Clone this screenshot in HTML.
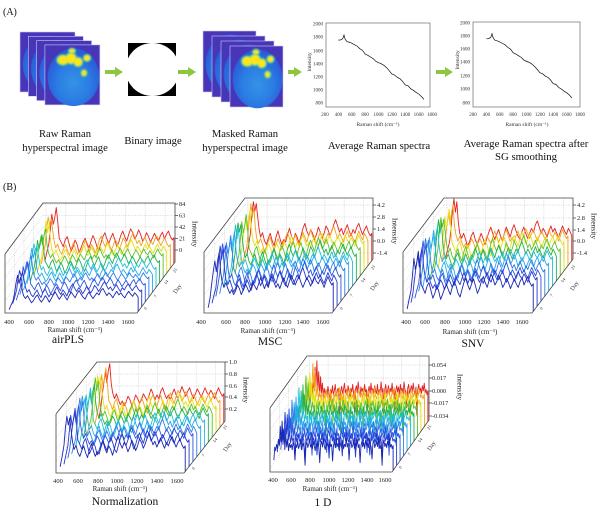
<!DOCTYPE html>
<html><head><meta charset="utf-8">
<style>
html,body{margin:0;padding:0;background:#fff;}
svg{display:block;font-family:"Liberation Serif","DejaVu Serif",serif;}
</style></head><body>
<svg width="600" height="507" viewBox="0 0 600 507" xmlns="http://www.w3.org/2000/svg" xmlns:xlink="http://www.w3.org/1999/xlink">
<defs>
 <radialGradient id="bg1" cx="0.5" cy="0.6" r="0.55">
   <stop offset="0" stop-color="#3592e6"/>
   <stop offset="0.55" stop-color="#2b7ee4"/>
   <stop offset="1" stop-color="#2a5cd8"/>
 </radialGradient>
 <filter id="bl" x="-50%" y="-50%" width="200%" height="200%"><feGaussianBlur stdDeviation="0.8"/></filter>
 <clipPath id="cb"><rect x="128" y="43" width="48" height="53"/></clipPath>
 <path id="A" fill="none" stroke-width="0.9" stroke-linejoin="round" vector-effect="non-scaling-stroke" d="M30 -4 L50 -20 L70 -35 L85 -60 L100 -88 L115 -70 L130 -82 L145 -100 L160 -75 L175 -45 L195 -38 L215 -30 L235 -42 L255 -48 L275 -35 L295 -22 L315 -30 L335 -42 L355 -34 L375 -20 L395 -28 L415 -38 L435 -45 L455 -36 L475 -28 L495 -40 L515 -50 L535 -42 L555 -30 L575 -24 L595 -36 L615 -48 L635 -55 L655 -44 L675 -36 L695 -46 L715 -54 L735 -42 L755 -30 L775 -38 L795 -50 L815 -58 L835 -48 L855 -40 L875 -52 L895 -62 L915 -55 L935 -44 L955 -50 L975 -60 L995 -52 L1015 -40 L1035 -46 L1055 -55 L1075 -48 L1095 -38 L1115 -46 L1135 -54 L1155 -46 L1175 -40 L1195 -50 L1215 -56 L1235 -44 L1255 -52 L1275 -58 L1295 -48 L1315 -42 L1330 -46 L1330 0"/>
 <path id="B" fill="none" stroke-width="0.9" stroke-linejoin="round" vector-effect="non-scaling-stroke" d="M30 -8 L50 -25 L70 -45 L85 -75 L100 -95 L115 -80 L130 -92 L145 -70 L160 -50 L175 -38 L195 -45 L215 -32 L235 -26 L255 -36 L275 -44 L295 -32 L315 -24 L335 -38 L355 -48 L375 -36 L395 -26 L415 -34 L435 -30 L455 -42 L475 -52 L495 -40 L515 -32 L535 -44 L555 -38 L575 -28 L595 -40 L615 -52 L635 -60 L655 -48 L675 -40 L695 -50 L715 -44 L735 -34 L755 -42 L775 -54 L795 -46 L815 -36 L835 -44 L855 -56 L875 -50 L895 -40 L915 -48 L935 -58 L955 -66 L975 -56 L995 -46 L1015 -52 L1035 -42 L1055 -50 L1075 -58 L1095 -48 L1115 -40 L1135 -50 L1155 -44 L1175 -54 L1195 -60 L1215 -50 L1235 -42 L1255 -50 L1275 -56 L1295 -46 L1315 -40 L1330 -44 L1330 0"/>
 <path id="C" fill="none" stroke-width="0.9" stroke-linejoin="round" vector-effect="non-scaling-stroke" d="M30 -5 L50 -18 L70 -30 L85 -52 L100 -80 L115 -100 L130 -78 L145 -95 L160 -62 L175 -44 L195 -36 L215 -44 L235 -34 L255 -24 L275 -30 L295 -40 L315 -46 L335 -34 L355 -26 L375 -34 L395 -44 L415 -36 L435 -26 L455 -36 L475 -46 L495 -54 L515 -44 L535 -34 L555 -42 L575 -50 L595 -40 L615 -32 L635 -44 L655 -54 L675 -46 L695 -38 L715 -50 L735 -58 L755 -48 L775 -40 L795 -34 L815 -46 L835 -54 L855 -44 L875 -36 L895 -44 L915 -52 L935 -46 L955 -58 L975 -64 L995 -54 L1015 -44 L1035 -52 L1055 -46 L1075 -38 L1095 -48 L1115 -56 L1135 -46 L1155 -52 L1175 -44 L1195 -38 L1215 -48 L1235 -56 L1255 -48 L1275 -42 L1295 -52 L1315 -46 L1330 -40 L1330 0"/>
 <path id="E" fill="none" stroke-width="0.9" stroke-linejoin="round" vector-effect="non-scaling-stroke" d="M30 -6 L50 -22 L70 -50 L85 -68 L100 -84 L115 -66 L130 -86 L145 -98 L160 -66 L175 -50 L195 -40 L215 -48 L235 -38 L255 -30 L275 -36 L295 -28 L315 -34 L335 -44 L355 -38 L375 -28 L395 -36 L415 -46 L435 -40 L455 -32 L475 -38 L495 -48 L515 -42 L535 -36 L555 -46 L575 -56 L595 -48 L615 -38 L635 -46 L655 -40 L675 -52 L695 -58 L715 -48 L735 -40 L755 -46 L775 -38 L795 -48 L815 -56 L835 -46 L855 -40 L875 -50 L895 -60 L915 -52 L935 -44 L955 -52 L975 -58 L995 -48 L1015 -40 L1035 -48 L1055 -56 L1075 -50 L1095 -42 L1115 -50 L1135 -58 L1155 -50 L1175 -46 L1195 -54 L1215 -48 L1235 -40 L1255 -50 L1275 -58 L1295 -50 L1315 -44 L1330 -48 L1330 0"/>
 <path id="D" fill="none" stroke-width="0.9" stroke-linejoin="round" vector-effect="non-scaling-stroke" d="M30 -20 L40 -45 L50 -38 L60 -50 L70 -42 L80 -60 L90 -48 L100 -85 L110 -55 L120 -95 L130 -50 L140 -78 L150 -40 L160 -70 L170 -45 L180 -60 L190 -38 L200 -52 L210 -44 L220 -50 L230 -40 L240 -55 L250 -47 L260 -20 L270 -50 L280 -44 L290 -56 L300 -42 L310 -48 L320 -58 L330 -40 L340 -46 L350 -52 L360 -43 L370 -10 L380 -48 L390 -55 L400 -44 L410 -50 L420 -60 L430 -45 L440 -50 L450 -42 L460 -56 L470 -48 L480 -38 L490 -52 L500 -46 L510 -58 L520 -44 L530 -15 L540 -50 L550 -56 L560 -45 L570 -62 L580 -48 L590 -40 L600 -54 L610 -47 L620 -52 L630 -42 L640 -58 L650 -46 L660 -50 L670 -18 L680 -48 L690 -55 L700 -44 L710 -60 L720 -46 L730 -52 L740 -40 L750 -56 L760 -48 L770 -44 L780 -58 L790 -42 L800 -50 L810 -46 L820 -62 L830 -45 L840 -52 L850 -20 L860 -50 L870 -58 L880 -44 L890 -48 L900 -56 L910 -42 L920 -52 L930 -47 L940 -60 L950 -44 L960 -50 L970 -15 L980 -48 L990 -56 L1000 -46 L1010 -54 L1020 -42 L1030 -58 L1040 -48 L1050 -52 L1060 -44 L1070 -62 L1080 -50 L1090 -46 L1100 -22 L1110 -52 L1120 -58 L1130 -44 L1140 -50 L1150 -56 L1160 -46 L1170 -60 L1180 -48 L1190 -42 L1200 -54 L1210 -10 L1220 -50 L1230 -58 L1240 -46 L1250 -52 L1260 -44 L1270 -56 L1280 -48 L1290 -60 L1300 -45 L1310 -50 L1320 -42 L1330 -48 L1330 0"/>
 <path id="D2" fill="none" stroke-width="0.9" stroke-linejoin="round" vector-effect="non-scaling-stroke" d="M30 -25 L42 -48 L54 -40 L66 -55 L78 -45 L90 -70 L102 -50 L114 -100 L126 -60 L138 -88 L150 -48 L162 -65 L174 -42 L186 -56 L198 -46 L210 -52 L222 -18 L234 -54 L246 -44 L258 -58 L270 -46 L282 -50 L294 -40 L306 -56 L318 -48 L330 -12 L342 -52 L354 -46 L366 -58 L378 -44 L390 -50 L402 -62 L414 -46 L426 -52 L438 -40 L450 -56 L462 -20 L474 -50 L486 -58 L498 -44 L510 -52 L522 -60 L534 -46 L546 -50 L558 -42 L570 -58 L582 -48 L594 -14 L606 -52 L618 -58 L630 -46 L642 -54 L654 -44 L666 -60 L678 -48 L690 -52 L702 -40 L714 -56 L726 -50 L738 -18 L750 -52 L762 -58 L774 -46 L786 -62 L798 -48 L810 -44 L822 -56 L834 -50 L846 -58 L858 -42 L870 -54 L882 -16 L894 -50 L906 -58 L918 -46 L930 -52 L942 -60 L954 -48 L966 -44 L978 -56 L990 -50 L1002 -62 L1014 -46 L1026 -52 L1038 -20 L1050 -54 L1062 -46 L1074 -58 L1086 -50 L1098 -44 L1110 -60 L1122 -48 L1134 -54 L1146 -42 L1158 -56 L1170 -12 L1182 -52 L1194 -58 L1206 -46 L1218 -54 L1230 -48 L1242 -60 L1254 -44 L1266 -52 L1278 -58 L1290 -46 L1302 -50 L1314 -44 L1330 -52 L1330 0"/>
 <polyline id="avg" fill="none" stroke="#111" stroke-width="0.7" points="338.38,40 339.71,40.13 341.05,39.67 342.39,39 343.06,38 344,35 344.73,38 345.73,40 347.07,41.67 349.08,42.13 351.75,43.2 354.43,44.67 357.1,46.13 359.78,48.67 362.45,50.33 365.13,54 367.8,55.33 370.48,57 373.15,58.67 375.83,61.33 378.5,62.67 381.18,63.67 383.85,65.33 386.53,67.67 389.2,70.67 391.88,74 394.55,75 397.23,77.33 399.9,78.67 402.58,81.33 405.25,85 407.93,85.67 410.6,88.67 413.28,90.33 415.95,92.33 418.63,94 421.3,96.33 423.98,99.33"/>
</defs>
<rect width="600" height="507" fill="#fff"/>

<!-- image stack 1 -->
<g stroke="#cfc8f2" stroke-width="0.6">
 <rect x="20" y="32" width="55" height="60" fill="#4737b8"/>
 <ellipse cx="48.6" cy="64.4" rx="25.85" ry="28.8" fill="url(#bg1)" stroke="none"/>
 <rect x="28.3" y="36.3" width="55" height="60" fill="#4737b8"/>
 <ellipse cx="56.9" cy="68.7" rx="25.85" ry="28.8" fill="url(#bg1)" stroke="none"/>
 <rect x="36.6" y="40.6" width="55" height="60" fill="#4737b8"/>
 <ellipse cx="65.2" cy="73" rx="25.85" ry="28.8" fill="url(#bg1)" stroke="none"/>
 <rect x="44.9" y="44.9" width="55" height="60" fill="#4737b8"/>
 <ellipse cx="73.5" cy="77.3" rx="25.85" ry="28.8" fill="url(#bg1)" stroke="none"/>
</g>
<g filter="url(#bl)">
 <g fill="#3fbf9c"><ellipse cx="63" cy="60" rx="7" ry="6"/><ellipse cx="71" cy="58.5" rx="6.5" ry="6.5"/><ellipse cx="78" cy="62" rx="5.5" ry="5.5"/><ellipse cx="87" cy="58" rx="4.5" ry="4.3"/><ellipse cx="84" cy="73" rx="3.9" ry="4.3"/><ellipse cx="72" cy="51" rx="4.3" ry="3.5"/></g>
 <g fill="#f5e21a"><ellipse cx="63" cy="60" rx="5.5" ry="4.5"/><ellipse cx="71" cy="58.5" rx="5" ry="5"/><ellipse cx="78" cy="62" rx="4" ry="4"/><ellipse cx="87" cy="58" rx="3" ry="2.8"/><ellipse cx="84" cy="73" rx="2.4" ry="2.8"/><ellipse cx="72" cy="51" rx="2.8" ry="2"/></g>
</g>
<g fill="#f8e818"><ellipse cx="63" cy="60" rx="3.8" ry="3"/><ellipse cx="71" cy="58.5" rx="3.4" ry="3.4"/><ellipse cx="78" cy="62" rx="2.6" ry="2.6"/><ellipse cx="87" cy="58" rx="1.8" ry="1.7"/></g>

<!-- image stack 2 -->
<g stroke="#cfc8f2" stroke-width="0.6">
 <rect x="203" y="31" width="53" height="61" fill="#4737b8"/>
 <ellipse cx="230.56" cy="63.94" rx="24.9" ry="29.3" fill="url(#bg1)" stroke="none"/>
 <rect x="212" y="36" width="53" height="61" fill="#4737b8"/>
 <ellipse cx="239.56" cy="68.94" rx="24.9" ry="29.3" fill="url(#bg1)" stroke="none"/>
 <rect x="221" y="41" width="53" height="61" fill="#4737b8"/>
 <ellipse cx="248.56" cy="73.94" rx="24.9" ry="29.3" fill="url(#bg1)" stroke="none"/>
 <rect x="230" y="46" width="53" height="61" fill="#4737b8"/>
 <ellipse cx="257.56" cy="78.94" rx="24.9" ry="29.3" fill="url(#bg1)" stroke="none"/>
</g>
<g filter="url(#bl)">
 <g fill="#3fbf9c"><ellipse cx="247.4" cy="61.3" rx="6.8" ry="6.1"/><ellipse cx="255.1" cy="59.8" rx="6.3" ry="6.6"/><ellipse cx="261.8" cy="63.3" rx="5.3" ry="5.6"/><ellipse cx="270.5" cy="59.2" rx="4.4" ry="4.4"/><ellipse cx="267.6" cy="74.5" rx="3.8" ry="4.4"/><ellipse cx="256" cy="52.1" rx="4.2" ry="3.6"/></g>
 <g fill="#f5e21a"><ellipse cx="247.4" cy="61.3" rx="5.3" ry="4.6"/><ellipse cx="255.1" cy="59.8" rx="4.8" ry="5.1"/><ellipse cx="261.8" cy="63.3" rx="3.9" ry="4.1"/><ellipse cx="270.5" cy="59.2" rx="2.9" ry="2.9"/><ellipse cx="267.6" cy="74.5" rx="2.3" ry="2.9"/><ellipse cx="256" cy="52.1" rx="2.7" ry="2"/></g>
</g>
<g fill="#f8e818"><ellipse cx="247.4" cy="61.3" rx="3.6" ry="3.1"/><ellipse cx="255.1" cy="59.8" rx="3.3" ry="3.5"/><ellipse cx="261.8" cy="63.3" rx="2.5" ry="2.7"/><ellipse cx="270.5" cy="59.2" rx="1.8" ry="1.8"/></g>

<!-- binary image -->
<rect x="128" y="43" width="48" height="53" fill="#000"/>
<ellipse cx="152.5" cy="69.5" rx="27" ry="26.5" fill="#fff" clip-path="url(#cb)"/>

<!-- arrows -->
<g fill="#8dc63f">
 <rect x="105" y="70" width="11" height="4"/><polygon points="115,67 123,72 115,77"/>
 <rect x="178" y="70" width="11" height="4"/><polygon points="188,67 196,72 188,77"/>
 <rect x="288" y="70" width="7" height="4"/><polygon points="294,67 302,72 294,77"/>
 <rect x="436" y="70" width="10" height="4"/><polygon points="445,67 453,72 445,77"/>
</g>

<!-- top plot frames & lines -->
<rect x="326" y="23" width="104" height="84" fill="none" stroke="#555" stroke-width="0.6"/>
<rect x="473" y="22" width="107" height="85" fill="none" stroke="#555" stroke-width="0.6"/>
<use xlink:href="#avg" href="#avg"/>
<use xlink:href="#avg" href="#avg" transform="translate(148,-1.3)"/>

<g font-size="10.6" text-anchor="middle" fill="#111">
 <text x="3" y="15" font-size="10" text-anchor="start">(A)</text>
 <text x="65" y="137">Raw Raman</text>
 <text x="65" y="151">hyperspectral image</text>
 <text x="153" y="144">Binary image</text>
 <text x="245" y="137">Masked Raman</text>
 <text x="245" y="151">hyperspectral image</text>
 <text x="379" y="149" font-size="10.8">Average Raman spectra</text>
 <text x="526" y="147" font-size="10.8">Average Raman spectra after</text>
 <text x="526" y="160" font-size="10.8">SG smoothing</text>
</g>

<g font-size="5" fill="#333" text-anchor="end">
 <text x="323" y="25.7">2000</text><text x="323" y="38.7">1800</text><text x="323" y="52.4">1600</text><text x="323" y="65.4">1400</text><text x="323" y="78.7">1200</text><text x="323" y="91.7">1000</text><text x="323" y="104.7">800</text>
 <text x="470" y="24.4">2000</text><text x="470" y="37.4">1800</text><text x="470" y="50.7">1600</text><text x="470" y="63.7">1400</text><text x="470" y="77.7">1200</text><text x="470" y="90.7">1000</text><text x="470" y="104.4">800</text>
</g>
<g font-size="5" fill="#333" text-anchor="middle">
 <text x="325" y="116">200</text><text x="338.4" y="116">400</text><text x="351.8" y="116">600</text><text x="365.1" y="116">800</text><text x="378.5" y="116">1000</text><text x="391.9" y="116">1200</text><text x="405.3" y="116">1400</text><text x="418.6" y="116">1600</text><text x="432" y="116">1800</text>
 <text x="473" y="116">200</text><text x="486.4" y="116">400</text><text x="499.8" y="116">600</text><text x="513.1" y="116">800</text><text x="526.5" y="116">1000</text><text x="539.9" y="116">1200</text><text x="553.3" y="116">1400</text><text x="566.6" y="116">1600</text><text x="580" y="116">1800</text>
 <text x="378" y="126" font-size="5.5">Raman shift (cm⁻¹)</text>
 <text x="527" y="126" font-size="5.5">Raman shift (cm⁻¹)</text>
 <text transform="translate(311,62) rotate(-90)" font-size="5.5">Intensity</text>
 <text transform="translate(459,60) rotate(-90)" font-size="5.5">Intensity</text>
</g>

<!-- ===== Panel B grids ===== -->
<g stroke="#b8b8b8" stroke-width="0.5" stroke-dasharray="1 1.3" fill="none">
 <path d="M45.98 203V262M65.83 203V262M85.68 203V262M105.53 203V262M125.38 203V262M145.2 203V262M165.1 203V262
 M43 204H175M43 215.5H175M43 227H175M43 238.5H175M43 250H175
 M43 204L5 255M43 215.5L5 266.5M43 227L5 278M43 238.5L5 289.5M43 250L5 301
 M14.5 241.25V300.25M24 228.5V287.5M33.5 215.75V274.75"/>
 <path d="M247.89 198V259M267.14 198V259M286.38 198V259M305.63 198V259M324.88 198V259M344.13 198V259M363.38 198V259
 M245 205H373M245 217H373M245 229H373M245 241H373M245 253H373
 M245 205L204 259M245 217L204 271M245 229L204 283M245 241L204 295M245 253L204 307
 M214.25 238.5V299.5M224.5 225V286M234.75 211.5V272.5"/>
 <path d="M446.91 198V259M466.31 198V259M485.71 198V259M505.11 198V259M524.51 198V259M543.91 198V259M563.31 198V259
 M444 205H573M444 218H573M444 230H573M444 241H573M444 253H573
 M444 205L403 259M444 218L403 272M444 230L403 284M444 241L403 295M444 253L403 307
 M413.25 238.5V299.5M423.5 225V286M433.75 211.5V272.5"/>
 <path d="M99.89 362V421M119.14 362V421M138.38 362V421M157.63 362V421M176.88 362V421M196.13 362V421M215.38 362V421
 M97 362H225M97 374H225M97 386H225M97 397H225M97 409H225
 M97 362L56 414M97 374L56 426M97 386L56 438M97 397L56 449M97 409L56 461
 M66.25 401V460M76.5 388V447M86.75 375V434"/>
 <path d="M309.75 356V420M328.1 356V420M346.44 356V420M364.79 356V420M383.13 356V420M401.48 356V420M419.83 356V420
 M307 365H429M307 378H429M307 391H429M307 403H429M307 416H429
 M307 365L270 417M307 378L270 430M307 391L270 443M307 403L270 455M307 416L270 468
 M279.25 395V459M288.5 382V446M297.75 369V433"/>
</g>

<!-- ===== Curves ===== -->
<g>
 <use href="#A" xlink:href="#A" transform="translate(41.86,263.53) scale(.09925,.56)" stroke="#e52222"/>
 <use href="#B" xlink:href="#B" transform="translate(38.29,268.32) scale(.09925,.54)" stroke="#f5a21a"/>
 <use href="#C" xlink:href="#C" transform="translate(34.72,273.12) scale(.09925,.52)" stroke="#e6e010"/>
 <use href="#E" xlink:href="#E" transform="translate(31.14,277.91) scale(.09925,.50)" stroke="#5cc22c"/>
 <use href="#A" xlink:href="#A" transform="translate(27.57,282.71) scale(.09925,.48)" stroke="#22b24a"/>
 <use href="#B" xlink:href="#B" transform="translate(24,287.5) scale(.09925,.46)" stroke="#20c0d8"/>
 <use href="#C" xlink:href="#C" transform="translate(20.43,292.29) scale(.09925,.44)" stroke="#26a8ea"/>
 <use href="#E" xlink:href="#E" transform="translate(16.86,297.09) scale(.09925,.42)" stroke="#2f7ee8"/>
 <use href="#A" xlink:href="#A" transform="translate(13.28,301.88) scale(.09925,.40)" stroke="#2c55e0"/>
 <use href="#B" xlink:href="#B" transform="translate(9.71,306.68) scale(.09925,.38)" stroke="#2438d0"/>
 <use href="#C" xlink:href="#C" transform="translate(6.14,311.47) scale(.09925,.36)" stroke="#1a26b0"/>
</g>
<g>
 <use href="#B" xlink:href="#B" transform="translate(243.77,260.62) scale(.09624,.62)" stroke="#e52222"/>
 <use href="#C" xlink:href="#C" transform="translate(239.92,265.70) scale(.09624,.618)" stroke="#f5a21a"/>
 <use href="#E" xlink:href="#E" transform="translate(236.06,270.77) scale(.09624,.616)" stroke="#e6e010"/>
 <use href="#A" xlink:href="#A" transform="translate(232.21,275.85) scale(.09624,.614)" stroke="#5cc22c"/>
 <use href="#B" xlink:href="#B" transform="translate(228.35,280.92) scale(.09624,.612)" stroke="#22b24a"/>
 <use href="#C" xlink:href="#C" transform="translate(224.5,286) scale(.09624,.61)" stroke="#20c0d8"/>
 <use href="#E" xlink:href="#E" transform="translate(220.65,291.08) scale(.09624,.608)" stroke="#26a8ea"/>
 <use href="#A" xlink:href="#A" transform="translate(216.79,296.15) scale(.09624,.606)" stroke="#2f7ee8"/>
 <use href="#B" xlink:href="#B" transform="translate(212.94,301.23) scale(.09624,.604)" stroke="#2c55e0"/>
 <use href="#C" xlink:href="#C" transform="translate(209.08,306.30) scale(.09624,.602)" stroke="#2438d0"/>
 <use href="#E" xlink:href="#E" transform="translate(205.23,311.38) scale(.09624,.60)" stroke="#1a26b0"/>
</g>
<g>
 <use href="#C" xlink:href="#C" transform="translate(442.77,260.62) scale(.097,.62)" stroke="#e52222"/>
 <use href="#E" xlink:href="#E" transform="translate(438.92,265.70) scale(.097,.618)" stroke="#f5a21a"/>
 <use href="#A" xlink:href="#A" transform="translate(435.06,270.77) scale(.097,.616)" stroke="#e6e010"/>
 <use href="#B" xlink:href="#B" transform="translate(431.21,275.85) scale(.097,.614)" stroke="#5cc22c"/>
 <use href="#C" xlink:href="#C" transform="translate(427.35,280.92) scale(.097,.612)" stroke="#22b24a"/>
 <use href="#E" xlink:href="#E" transform="translate(423.5,286) scale(.097,.61)" stroke="#20c0d8"/>
 <use href="#A" xlink:href="#A" transform="translate(419.65,291.08) scale(.097,.608)" stroke="#26a8ea"/>
 <use href="#B" xlink:href="#B" transform="translate(415.79,296.15) scale(.097,.606)" stroke="#2f7ee8"/>
 <use href="#C" xlink:href="#C" transform="translate(411.94,301.23) scale(.097,.604)" stroke="#2c55e0"/>
 <use href="#E" xlink:href="#E" transform="translate(408.08,306.30) scale(.097,.602)" stroke="#2438d0"/>
 <use href="#A" xlink:href="#A" transform="translate(404.23,311.38) scale(.097,.60)" stroke="#1a26b0"/>
</g>
<g>
 <use href="#E" xlink:href="#E" transform="translate(95.77,422.56) scale(.09624,.60)" stroke="#e52222"/>
 <use href="#A" xlink:href="#A" transform="translate(91.92,427.45) scale(.09624,.598)" stroke="#f5a21a"/>
 <use href="#B" xlink:href="#B" transform="translate(88.06,432.34) scale(.09624,.596)" stroke="#e6e010"/>
 <use href="#C" xlink:href="#C" transform="translate(84.21,437.22) scale(.09624,.594)" stroke="#5cc22c"/>
 <use href="#E" xlink:href="#E" transform="translate(80.35,442.11) scale(.09624,.592)" stroke="#22b24a"/>
 <use href="#A" xlink:href="#A" transform="translate(76.5,447) scale(.09624,.59)" stroke="#20c0d8"/>
 <use href="#B" xlink:href="#B" transform="translate(72.65,451.89) scale(.09624,.588)" stroke="#26a8ea"/>
 <use href="#C" xlink:href="#C" transform="translate(68.79,456.78) scale(.09624,.586)" stroke="#2f7ee8"/>
 <use href="#E" xlink:href="#E" transform="translate(64.94,461.66) scale(.09624,.584)" stroke="#2c55e0"/>
 <use href="#A" xlink:href="#A" transform="translate(61.08,466.55) scale(.09624,.582)" stroke="#2438d0"/>
 <use href="#B" xlink:href="#B" transform="translate(57.23,471.44) scale(.09624,.58)" stroke="#1a26b0"/>
</g>
<g>
 <use href="#D" xlink:href="#D" transform="translate(305.89,421.56) scale(.09173,.64)" stroke="#e52222"/>
 <use href="#D2" xlink:href="#D2" transform="translate(302.41,426.45) scale(.09173,.628)" stroke="#f5a21a"/>
 <use href="#D" xlink:href="#D" transform="translate(298.93,431.34) scale(.09173,.616)" stroke="#e6e010"/>
 <use href="#D2" xlink:href="#D2" transform="translate(295.46,436.22) scale(.09173,.604)" stroke="#5cc22c"/>
 <use href="#D" xlink:href="#D" transform="translate(291.98,441.11) scale(.09173,.592)" stroke="#22b24a"/>
 <use href="#D2" xlink:href="#D2" transform="translate(288.5,446) scale(.09173,.58)" stroke="#20c0d8"/>
 <use href="#D" xlink:href="#D" transform="translate(285.02,450.89) scale(.09173,.568)" stroke="#26a8ea"/>
 <use href="#D2" xlink:href="#D2" transform="translate(281.54,455.78) scale(.09173,.556)" stroke="#2f7ee8"/>
 <use href="#D" xlink:href="#D" transform="translate(278.07,460.66) scale(.09173,.544)" stroke="#2c55e0"/>
 <use href="#D2" xlink:href="#D2" transform="translate(274.59,465.55) scale(.09173,.532)" stroke="#2438d0"/>
 <use href="#D" xlink:href="#D" transform="translate(271.11,470.44) scale(.09173,.52)" stroke="#1a26b0"/>
</g>

<!-- ===== Box outlines ===== -->
<g stroke="#444" stroke-width="0.8" fill="none">
 <polyline points="5,254 5,313 137,313 175,262 175,203 43,203 5,254"/>
 <path d="M175 204h3M175 215.5h3M175 227h3M175 238.5h3M175 250h3"/>
 <polyline points="204,252 204,313 332,313 373,259 373,198 245,198 204,252"/>
 <path d="M373 205h3M373 217h3M373 229h3M373 241h3M373 253h3"/>
 <polyline points="403,252 403,313 532,313 573,259 573,198 444,198 403,252"/>
 <path d="M573 205h3M573 218h3M573 230h3M573 241h3M573 253h3"/>
 <polyline points="56,414 56,473 184,473 225,421 225,362 97,362 56,414"/>
 <path d="M225 362h3M225 374h3M225 386h3M225 397h3M225 409h3"/>
 <polyline points="270,408 270,472 392,472 429,420 429,356 307,356 270,408"/>
 <path d="M429 365h3M429 378h3M429 391h3M429 403h3M429 416h3"/>
</g>

<!-- Panel B text -->
<text x="3" y="190" font-size="10" fill="#111">(B)</text>
<g font-size="11.5" text-anchor="middle" fill="#111">
 <text x="68" y="343">airPLS</text>
 <text x="270" y="345">MSC</text>
 <text x="473" y="347">SNV</text>
 <text x="125" y="505">Normalization</text>
 <text x="323" y="506">1 D</text>
</g>

<g font-size="6.5" fill="#222" text-anchor="middle">
 <text x="9" y="324">400</text><text x="29" y="324">600</text><text x="49" y="324">800</text><text x="68" y="324">1000</text><text x="88" y="324">1200</text><text x="108" y="324">1400</text><text x="128" y="324">1600</text>
 <text x="201" y="324">400</text><text x="226" y="324">600</text><text x="245" y="324">800</text><text x="265" y="324">1000</text><text x="285" y="324">1200</text><text x="303" y="324">1400</text><text x="323" y="324">1600</text>
 <text x="406" y="324">400</text><text x="425" y="324">600</text><text x="445" y="324">800</text><text x="465" y="324">1000</text><text x="484" y="324">1200</text><text x="503" y="324">1400</text><text x="522" y="324">1600</text>
 <text x="58" y="483">400</text><text x="78" y="483">600</text><text x="98" y="483">800</text><text x="117" y="483">1000</text><text x="137" y="483">1200</text><text x="157" y="483">1400</text><text x="177" y="483">1600</text>
 <text x="273" y="482">400</text><text x="291" y="482">600</text><text x="310" y="482">800</text><text x="329" y="482">1000</text><text x="348" y="482">1200</text><text x="367" y="482">1400</text><text x="385" y="482">1600</text>
</g>
<g font-size="7" fill="#222" text-anchor="middle">
 <text x="75" y="332">Raman shift (cm⁻¹)</text>
 <text x="268" y="333">Raman shift (cm⁻¹)</text>
 <text x="470" y="334">Raman shift (cm⁻¹)</text>
 <text x="120" y="491">Raman shift (cm⁻¹)</text>
 <text x="330" y="491">Raman shift (cm⁻¹)</text>
 <text transform="translate(192.5,234) rotate(90)" font-size="7.5">Intensity</text>
 <text transform="translate(392.5,231) rotate(90)" font-size="7.5">Intensity</text>
 <text transform="translate(591.5,226) rotate(90)" font-size="7.5">Intensity</text>
 <text transform="translate(243.5,390) rotate(90)" font-size="7.5">Intensity</text>
 <text transform="translate(457.5,387) rotate(90)" font-size="7.5">Intensity</text>
</g>
<g font-size="6.3" fill="#222">
 <text x="179" y="206.2">84</text><text x="179" y="217.7">63</text><text x="179" y="229.2">42</text><text x="179" y="240.7">21</text><text x="179" y="252.2">0</text>
 <text x="377" y="207.2">4.2</text><text x="377" y="219.2">2.8</text><text x="377" y="231.2">1.4</text><text x="377" y="243.2">0.0</text><text x="377" y="255.2">-1.4</text>
 <text x="577" y="207.2">4.2</text><text x="577" y="220.2">2.8</text><text x="577" y="232.2">1.4</text><text x="577" y="243.2">0.0</text><text x="577" y="255.2">-1.4</text>
 <text x="229" y="364.2">1.0</text><text x="229" y="376.2">0.8</text><text x="229" y="388.2">0.6</text><text x="229" y="399.2">0.4</text><text x="229" y="411.2">0.2</text>
 <text x="432" y="367.2">0.054</text><text x="432" y="380.2">0.017</text><text x="432" y="393.2">0.000</text><text x="432" y="405.2">-0.017</text><text x="432" y="418.2">-0.034</text>
</g>
<g font-size="4.5" fill="#333">
 <text transform="translate(146,310) rotate(-55)">0</text><text transform="translate(156,298) rotate(-55)">7</text><text transform="translate(166,285) rotate(-55)">14</text><text transform="translate(175,273) rotate(-55)">21</text>
 <text transform="translate(342,310) rotate(-55)">0</text><text transform="translate(352,297) rotate(-55)">7</text><text transform="translate(363,283) rotate(-55)">14</text><text transform="translate(373,270) rotate(-55)">21</text>
 <text transform="translate(542,310) rotate(-55)">0</text><text transform="translate(552,297) rotate(-55)">7</text><text transform="translate(563,283) rotate(-55)">14</text><text transform="translate(573,270) rotate(-55)">21</text>
 <text transform="translate(194,470) rotate(-55)">0</text><text transform="translate(204,457) rotate(-55)">7</text><text transform="translate(215,443) rotate(-55)">14</text><text transform="translate(225,430) rotate(-55)">21</text>
 <text transform="translate(401,469) rotate(-55)">0</text><text transform="translate(410,456) rotate(-55)">7</text><text transform="translate(420,443) rotate(-55)">14</text><text transform="translate(429,430) rotate(-55)">21</text>
</g>
<g font-size="6" fill="#333">
 <text transform="translate(176,294) rotate(-55)">Day</text>
 <text transform="translate(373,291) rotate(-55)">Day</text>
 <text transform="translate(573,291) rotate(-55)">Day</text>
 <text transform="translate(226,452) rotate(-55)">Day</text>
 <text transform="translate(430,451) rotate(-55)">Day</text>
</g>
</svg>
</body></html>
